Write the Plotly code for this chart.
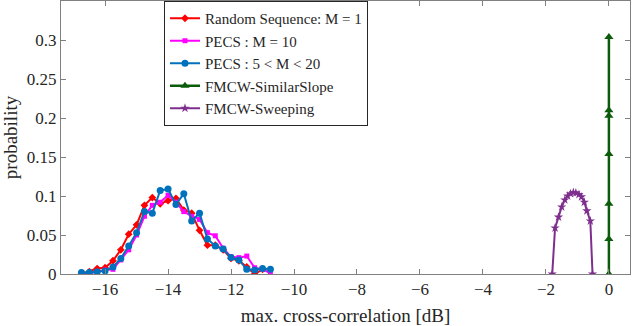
import plotly.graph_objects as go

# x positions (dB) for the three code families, 0.25 dB bins
x_codes = [-16.75, -16.5, -16.25, -16.0, -15.75, -15.5, -15.25, -15.0, -14.75, -14.5,
           -14.25, -14.0, -13.75, -13.5, -13.25, -13.0, -12.75, -12.5, -12.25, -12.0,
           -11.75, -11.5, -11.25, -11.0, -10.75]

p_random = [0.0, 0.003, 0.007, 0.008, 0.017, 0.031, 0.051, 0.063, 0.088, 0.098,
            0.090, 0.094, 0.097, 0.082, 0.078, 0.056, 0.037, 0.037, 0.031, 0.020,
            0.017, 0.009, 0.0, 0.006]
p_pecs10 = [0.0, 0.001, 0.003, 0.005, 0.006, 0.018, 0.031, 0.050, 0.074, 0.088,
            0.092, 0.101, 0.092, 0.080, 0.074, 0.070, 0.053, 0.049, 0.033, 0.022,
            0.021, 0.023, 0.008, 0.006, 0.001]
p_pecs520 = [0.002, 0.002, 0.003, 0.004, 0.009, 0.020, 0.036, 0.053, 0.080, 0.078,
             0.107, 0.109, 0.089, 0.103, 0.068, 0.078, 0.045, 0.036, 0.032, 0.021,
             0.018, 0.006, 0.005, 0.007, 0.006]

x_slope = [0, 0, 0, 0, 0, 0, 0]
p_slope = [0.0, 0.045, 0.090, 0.154, 0.203, 0.210, 0.304]

x_sweep = [-1.80, -1.71, -1.60, -1.50, -1.40, -1.31, -1.22, -1.13, -1.05, -0.95,
           -0.87, -0.78, -0.70, -0.59, -0.52]
p_sweep = [0.0, 0.059, 0.073, 0.086, 0.095, 0.100, 0.103, 0.1045, 0.104, 0.102,
           0.099, 0.092, 0.081, 0.068, 0.0]

xticks = [-16, -14, -12, -10, -8, -6, -4, -2, 0]
yticks = [0, 0.05, 0.1, 0.15, 0.2, 0.25, 0.3]
yticklabels = ["0", "0.05", "0.1", "0.15", "0.2", "0.25", "0.3"]

fig = go.Figure()

fig.add_trace(go.Scatter(x=x_codes[:len(p_random)], y=p_random, mode="lines+markers",
                         name="Random Sequence: M = 1",
                         line=dict(color="#ff0000", width=2),
                         marker=dict(symbol="diamond", size=6, color="#ff0000")))
fig.add_trace(go.Scatter(x=x_codes, y=p_pecs10, mode="lines+markers",
                         name="PECS : M = 10",
                         line=dict(color="#ff00ff", width=2),
                         marker=dict(symbol="square", size=5, color="#ff00ff")))
fig.add_trace(go.Scatter(x=x_codes, y=p_pecs520, mode="lines+markers",
                         name="PECS : 5 < M < 20",
                         line=dict(color="#0072bd", width=2),
                         marker=dict(symbol="circle", size=7, color="#0072bd")))
fig.add_trace(go.Scatter(x=x_slope, y=p_slope, mode="lines+markers",
                         name="FMCW-SimilarSlope",
                         line=dict(color="#0a5c0a", width=2.5),
                         marker=dict(symbol="triangle-up", size=8, color="#0a5c0a")))
fig.add_trace(go.Scatter(x=x_sweep, y=p_sweep, mode="lines+markers",
                         name="FMCW-Sweeping",
                         line=dict(color="#7e2f8e", width=2),
                         marker=dict(symbol="star", size=7, color="#7e2f8e")))

axis_style = dict(showgrid=False, zeroline=False, showline=True, linecolor="#808080",
                  linewidth=1, mirror="ticks", ticks="inside", ticklen=5,
                  tickcolor="#808080", automargin=False,
                  tickfont=dict(family="Liberation Serif", size=17, color="#262626"))

fig.update_xaxes(range=[-17.4, 0.67], tickvals=xticks,
                 title=dict(text="max. cross-correlation [dB]",
                            font=dict(family="Liberation Serif", size=19, color="#262626"), standoff=10),
                 **axis_style)
fig.update_yaxes(range=[0, 0.35], tickvals=yticks, ticktext=yticklabels,
                 title=dict(text="probability",
                            font=dict(family="Liberation Serif", size=19, color="#262626"), standoff=5),
                 **axis_style)

fig.update_layout(
    width=632, height=326, autosize=False,
    margin=dict(l=61, r=2, t=1, b=52),
    paper_bgcolor="white", plot_bgcolor="white",
    font=dict(family="Liberation Serif", color="#262626"),
    legend=dict(x=0.181, y=1, xanchor="left", yanchor="top",
                bgcolor="white", bordercolor="#262626", borderwidth=1,
                font=dict(family="Liberation Serif", size=15), tracegroupgap=0, itemwidth=30),
)

# drop the browser's default 8px body margin so the figure sits at the corner
fig.write_html("out.html", config={"displayModeBar": False},
               post_script="document.body.style.margin='0';")
